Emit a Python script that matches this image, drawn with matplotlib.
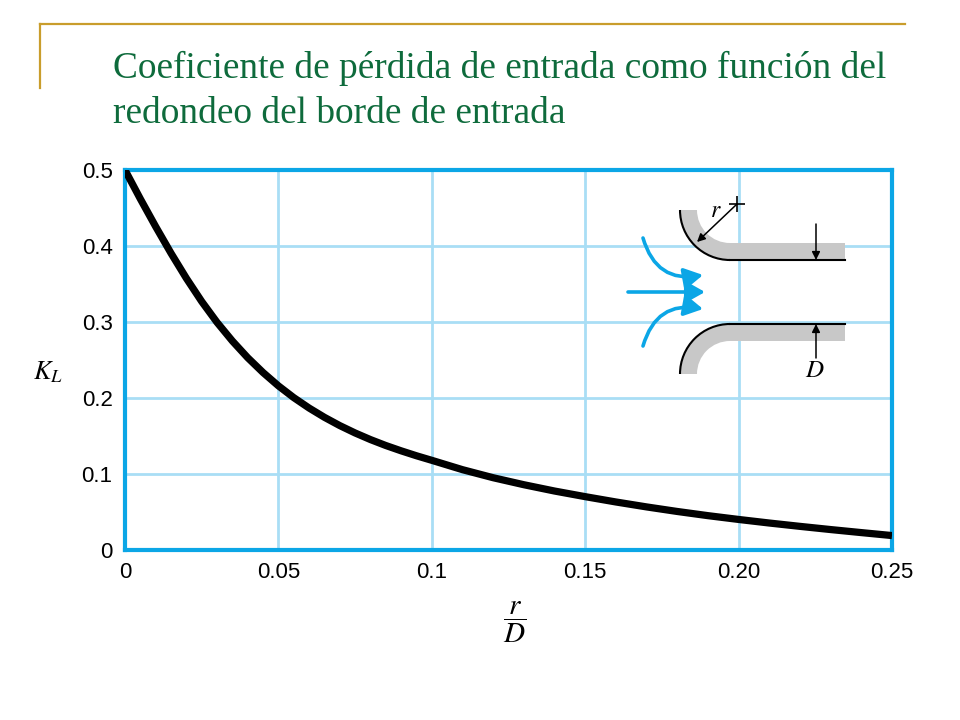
import numpy as np
import matplotlib
matplotlib.use("Agg")
import matplotlib.pyplot as plt
from matplotlib.lines import Line2D
from matplotlib.patches import Wedge, Rectangle, Arc, FancyArrowPatch, ArrowStyle

plt.rcParams['mathtext.fontset'] = 'stix'

# values
r_over_d = [0, 0.005, 0.010, 0.015, 0.020, 0.025, 0.030, 0.035, 0.040, 0.045,
            0.050, 0.055, 0.060, 0.065, 0.070, 0.075, 0.080, 0.085, 0.090, 0.095,
            0.10, 0.11, 0.12, 0.13, 0.14, 0.15, 0.16, 0.17, 0.18, 0.19,
            0.20, 0.21, 0.22, 0.23, 0.24, 0.25]
k_l = [0.5000, 0.4620, 0.4255, 0.3905, 0.3575, 0.3270, 0.2995, 0.2750, 0.2530, 0.2335,
       0.2160, 0.2005, 0.1868, 0.1746, 0.1637, 0.1540, 0.1453, 0.1375, 0.1305, 0.1240,
       0.1180, 0.1057, 0.0951, 0.0859, 0.0776, 0.0702, 0.0632, 0.0567, 0.0507, 0.0452,
       0.0402, 0.0355, 0.0311, 0.0269, 0.0229, 0.0190]

x_ticks = [0, 0.05, 0.1, 0.15, 0.2, 0.25]
x_labels = ['0', '0.05', '0.1', '0.15', '0.20', '0.25']
y_ticks = [0, 0.1, 0.2, 0.3, 0.4, 0.5]
y_labels = ['0', '0.1', '0.2', '0.3', '0.4', '0.5']

title1 = 'Coeficiente de pérdida de entrada como función del'
title2 = 'redondeo del borde de entrada'

W, H = 960, 720
blue = '#0BA6E6'
grid_blue = '#A9DEF5'
green = '#0E6B3C'
gold = '#C99D2C'

fig = plt.figure(figsize=(9.6, 7.2), dpi=100)

# slide decoration
fig.add_artist(Line2D([40/W, 905/W], [1-24/H, 1-24/H], color=gold, lw=1.6))
fig.add_artist(Line2D([40/W, 40/W], [1-24/H, 1-88/H], color=gold, lw=1.6))
fig.text(113/W, 1-78/H, title1, family='Liberation Serif', fontsize=26.9,
         color=green, va='baseline')
fig.text(113/W, 1-123/H, title2, family='Liberation Serif', fontsize=26.9,
         color=green, va='baseline')

# main chart
ax = fig.add_axes([125/W, 1-550/H, 767/W, 380/H])
ax.plot(r_over_d, k_l, color='black', lw=5.2, solid_capstyle='butt',
        solid_joinstyle='round', zorder=3)
ax.set_xlim(0, 0.25)
ax.set_ylim(0, 0.5)
ax.set_xticks(x_ticks)
ax.set_xticklabels(x_labels)
ax.set_yticks(y_ticks)
ax.set_yticklabels(y_labels)
ax.grid(True, color=grid_blue, lw=2)
ax.set_axisbelow(True)
for s in ax.spines.values():
    s.set_color(blue)
    s.set_linewidth(3)
ax.tick_params(length=0, pad=9, labelsize=16)
for t in ax.get_xticklabels() + ax.get_yticklabels():
    t.set_family('Liberation Sans')

fig.text(48/W, 1-372/H, r'$K_L$', fontsize=19, ha='center', va='center')
fig.text(515/W, 1-622/H, r'$\dfrac{r}{D}$', fontsize=21, ha='center', va='center')

# inset sketch of the rounded entrance
ins = fig.add_axes([597/W, 1-392/H, (875-597)/W, (392-172)/H])
ins.set_xlim(597, 875)
ins.set_ylim(392, 172)
ins.axis('off')
ins.patch.set_visible(True)
ins.patch.set_facecolor('white')

gray = '#C8C8C8'
# upper wall
ins.add_patch(Wedge((730, 210), 50, 90, 180, width=17, color=gray, lw=0))
ins.add_patch(Rectangle((730, 243), 115, 17, color=gray, lw=0))
ins.add_patch(Arc((730, 210), 100, 100, theta1=90, theta2=180, color='black', lw=1.5))
ins.plot([730, 845], [260, 260], color='black', lw=1.5)
# lower wall
ins.add_patch(Wedge((730, 374), 50, 180, 270, width=17, color=gray, lw=0))
ins.add_patch(Rectangle((730, 324), 115, 17, color=gray, lw=0))
ins.add_patch(Arc((730, 374), 100, 100, theta1=180, theta2=270, color='black', lw=1.5))
ins.plot([730, 845], [324, 324], color='black', lw=1.5)

# radius arrow
ins.plot([737], [204], marker='+', ms=11, mew=1.2, color='black')
ins.add_patch(FancyArrowPatch((737, 204), (697, 242), arrowstyle='-|>',
                              mutation_scale=12, color='black', lw=1.1,
                              shrinkA=0, shrinkB=0))
ins.text(716, 210, r'$r$', fontsize=17, ha='center', va='center')

# diameter arrows
ins.add_patch(FancyArrowPatch((816, 224), (816, 260), arrowstyle='-|>',
                              mutation_scale=12, color='black', lw=1.1,
                              shrinkA=0, shrinkB=0))
ins.add_patch(FancyArrowPatch((816, 358), (816, 324), arrowstyle='-|>',
                              mutation_scale=12, color='black', lw=1.1,
                              shrinkA=0, shrinkB=0))
ins.text(815, 370, r'$D$', fontsize=18, ha='center', va='center')

# flow arrows
style = ArrowStyle('-|>', head_length=0.8, head_width=0.45)
ins.add_patch(FancyArrowPatch((628, 292), (705, 292), arrowstyle=style,
                              mutation_scale=14, color=blue, lw=2.6,
                              shrinkA=0, shrinkB=0))
ins.add_patch(FancyArrowPatch((643, 238), (703, 275), arrowstyle=style,
                              connectionstyle='arc3,rad=0.45',
                              mutation_scale=14, color=blue, lw=2.6,
                              shrinkA=0, shrinkB=0))
ins.add_patch(FancyArrowPatch((643, 346), (703, 309), arrowstyle=style,
                              connectionstyle='arc3,rad=-0.45',
                              mutation_scale=14, color=blue, lw=2.6,
                              shrinkA=0, shrinkB=0))

fig.savefig('out.png', dpi=100)
